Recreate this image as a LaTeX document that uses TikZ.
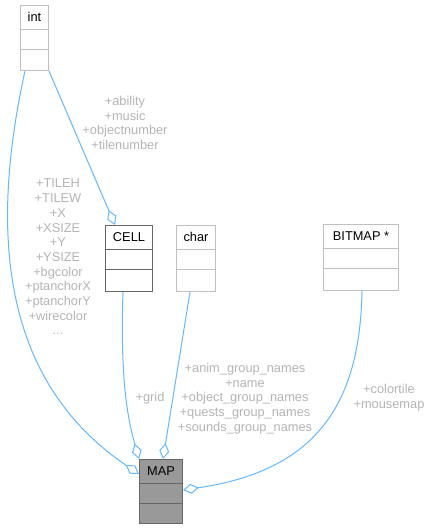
\documentclass[tikz,border=0pt]{standalone}
\usepackage{fontspec}
\setmainfont{Liberation Sans}
\usetikzlibrary{arrows.meta,calc}
\definecolor{edgeblue}{HTML}{63B8FF}
\definecolor{lblgray}{HTML}{B4B4B4}
\definecolor{boxlight}{HTML}{BFBFBF}
\definecolor{boxdark}{HTML}{666666}
\definecolor{mapfill}{HTML}{999999}
\begin{document}
\begin{tikzpicture}[x=1pt,y=-1pt,
  font=\fontsize{12.8}{14.7}\selectfont,
  clsbox/.style={draw=#1, line width=1pt, rectangle, inner sep=0pt, anchor=north west},
  titletext/.style={text=black, inner sep=0pt},
  lbl/.style={text=lblgray, align=center, inner sep=0pt},
  edge/.style={draw=edgeblue, line width=1pt,
    -{Diamond[open, length=16pt, width=10pt, line width=1pt]}},
]
\useasboundingbox (0,0) rectangle (431,531);

% int
\node[clsbox=boxlight, minimum width=28pt, minimum height=65pt] (int) at (20,5) {};
\node[titletext] (intt) at ($(int.north)+(0,12)$) {int};
\draw[boxlight, line width=1pt] ($(int.north west)+(0,24)$) -- ($(int.north east)+(0,24)$);
\draw[boxlight, line width=1pt] ($(int.north west)+(0,44)$) -- ($(int.north east)+(0,44)$);

% CELL
\node[clsbox=boxdark, minimum width=47pt, minimum height=66pt] (cell) at (105,225) {};
\node[titletext] (cellt) at ($(cell.north)+(0,12)$) {CELL};
\draw[boxdark, line width=1pt] ($(cell.north west)+(0,24)$) -- ($(cell.north east)+(0,24)$);
\draw[boxdark, line width=1pt] ($(cell.north west)+(0,44)$) -- ($(cell.north east)+(0,44)$);

% char
\node[clsbox=boxlight, minimum width=39pt, minimum height=66pt] (char) at (176,225) {};
\node[titletext] (chart) at ($(char.north)+(0,12)$) {char};
\draw[boxlight, line width=1pt] ($(char.north west)+(0,24)$) -- ($(char.north east)+(0,24)$);
\draw[boxlight, line width=1pt] ($(char.north west)+(0,44)$) -- ($(char.north east)+(0,44)$);

% BITMAP *
\node[clsbox=boxlight, minimum width=75pt, minimum height=66pt] (bmp) at (323,224) {};
\node[titletext] (bmpt) at ($(bmp.north)+(0,12)$) {BITMAP *};
\draw[boxlight, line width=1pt] ($(bmp.north west)+(0,24)$) -- ($(bmp.north east)+(0,24)$);
\draw[boxlight, line width=1pt] ($(bmp.north west)+(0,44)$) -- ($(bmp.north east)+(0,44)$);

% MAP
\node[clsbox=boxdark, fill=mapfill, minimum width=43pt, minimum height=64pt] (map) at (139,459) {};
\node[titletext] (mapt) at ($(map.north)+(0,12)$) {MAP};
\draw[boxdark, line width=1pt] ($(map.north west)+(0,24)$) -- ($(map.north east)+(0,24)$);
\draw[boxdark, line width=1pt] ($(map.north west)+(0,44)$) -- ($(map.north east)+(0,44)$);

% edges
\draw[edge] ($(int.south west)+(5,0)$) .. controls (-10,230) and (0,380) .. ($(map.north west)+(0,15)$);
\draw[edge] (int.south east) -- ($(cell.north west)+(10,0)$);
\draw[edge] ($(cell.south west)+(18,0)$) .. controls (120,380) and (128,420) .. (map.north west);
\draw[edge] ($(char.south west)+(14,0)$) -- ($(map.north west)+(24,0)$);
\draw[edge] ($(bmp.south west)+(39,0)$) .. controls (360,400) and (320,470) .. ($(map.north east)+(0,31)$);

% labels
\node[lbl] (l1) at (125,123) {+ability\\+music\\+objectnumber\\+tilenumber};
\node[lbl] (l2) at (58,257) {+TILEH\\+TILEW\\+X\\+XSIZE\\+Y\\+YSIZE\\+bgcolor\\+ptanchorX\\+ptanchorY\\+wirecolor\\...};
\node[lbl] (l3) at (150,398) {+grid};
\node[lbl] (l4) at (245,398.5) {+anim\_group\_names\\+name\\+object\_group\_names\\+quests\_group\_names\\+sounds\_group\_names};
\node[lbl] (l5) at (389,398) {+colortile\\+mousemap};
\end{tikzpicture}
\end{document}
